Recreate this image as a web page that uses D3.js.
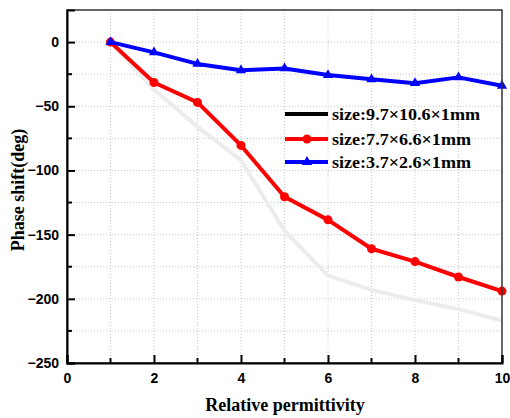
<!DOCTYPE html>
<html><head><meta charset="utf-8">
<script src="https://cdn.jsdelivr.net/npm/d3@7"></script>
<style>body{margin:0;background:#fff}svg{display:block}</style>
</head><body>
<svg id="c" width="510" height="418"></svg>
<script>
const permittivity = [1,2,3,4,5,6,7,8,9,10];
const seriesNames = ["size:9.7\u00d710.6\u00d71mm","size:7.7\u00d76.6\u00d71mm","size:3.7\u00d72.6\u00d71mm"];
const largeValues = [0,-37,-66,-92,-147,-182,-193,-201,-208,-217];
const midValues = [0,-31.5,-47,-80.5,-120.5,-138.5,-161,-171,-183,-194];
const smallValues = [0,-8,-17,-22,-20.5,-25.7,-29,-32,-27.5,-34];
const xTicks = [0,2,4,6,8,10];
const yTicks = [0,-50,-100,-150,-200,-250];

const svg = d3.select("#c");
const L=67,R=502,T=10,B=363;
const x = d3.scaleLinear().domain([0,10]).range([L,R]);
const y = d3.scaleLinear().domain([-250,25]).range([B,T]);

// grid
const g = svg.append("g");
d3.range(1,10).forEach(v=>g.append("line").attr("x1",x(v)).attr("x2",x(v)).attr("y1",T).attr("y2",B)
  .attr("stroke","#c8c8c8").attr("stroke-width",1).attr("stroke-dasharray","1,2"));
d3.range(-225,25,25).forEach(v=>g.append("line").attr("x1",L).attr("x2",R).attr("y1",y(v)).attr("y2",y(v))
  .attr("stroke","#c8c8c8").attr("stroke-width",1).attr("stroke-dasharray","1,2"));

const line = d3.line().x((d,i)=>x(permittivity[i])).y(d=>y(d));
svg.append("path").datum(largeValues).attr("d",line).attr("fill","none").attr("stroke","#ececec").attr("stroke-width",4).attr("stroke-linejoin","round");
svg.append("path").datum(midValues).attr("d",line).attr("fill","none").attr("stroke","#ff0000").attr("stroke-width",4).attr("stroke-linejoin","round");
svg.selectAll("circle.m").data(midValues).enter().append("circle").attr("cx",(d,i)=>x(permittivity[i])).attr("cy",d=>y(d)).attr("r",4.5).attr("fill","#ff0000");
svg.append("path").datum(smallValues).attr("d",line).attr("fill","none").attr("stroke","#0000ff").attr("stroke-width",4).attr("stroke-linejoin","round");
const tri = d3.symbol().type(d3.symbolTriangle).size(45);
svg.selectAll("path.t").data(smallValues).enter().append("path").attr("transform",(d,i)=>`translate(${x(permittivity[i])},${y(d)})`).attr("d",tri).attr("fill","#0000ff");

// frame
svg.append("rect").attr("x",L).attr("y",T).attr("width",R-L).attr("height",B-T).attr("fill","none").attr("stroke","#333").attr("stroke-width",1.5);

// axes
const xAxis = d3.axisBottom(x).tickValues(xTicks).tickSize(-8).tickPadding(10).tickFormat(d3.format("d"));
const gx = svg.append("g").attr("transform",`translate(0,${B})`).call(xAxis);
const yAxis = d3.axisLeft(y).tickValues(yTicks).tickSize(-8).tickPadding(8).tickFormat(d3.format("d"));
const gy = svg.append("g").attr("transform",`translate(${L},0)`).call(yAxis);
[gx,gy].forEach(a=>{
  a.select(".domain").attr("stroke","#000").attr("stroke-width",2);
  a.selectAll(".tick line").attr("stroke","#000").attr("stroke-width",2);
  a.selectAll("text").attr("font-family","Liberation Sans, Arial, sans-serif").attr("font-weight","bold").attr("font-size",14).attr("fill","#000");
});
// minor ticks
d3.range(1,10,2).forEach(v=>svg.append("line").attr("x1",x(v)).attr("x2",x(v)).attr("y1",B).attr("y2",B-5).attr("stroke","#000").attr("stroke-width",2));
d3.range(-225,25,50).forEach(v=>svg.append("line").attr("x1",L).attr("x2",L+5).attr("y1",y(v)).attr("y2",y(v)).attr("stroke","#000").attr("stroke-width",2));

svg.append("text").attr("x",285).attr("y",411).attr("text-anchor","middle")
  .attr("font-family","Liberation Serif, Times New Roman, serif").attr("font-weight","bold").attr("font-size",18).text("Relative permittivity");
svg.append("text").attr("transform","translate(24,190) rotate(-90)").attr("text-anchor","middle")
  .attr("font-family","Liberation Serif, Times New Roman, serif").attr("font-weight","bold").attr("font-size",18).text("Phase shift(deg)");

// legend
const colors=["#000000","#ff0000","#0000ff"];
const ly=[114,139,162];
const lw=[148,139,139];
seriesNames.forEach((n,i)=>{
  svg.append("line").attr("x1",285).attr("x2",328).attr("y1",ly[i]).attr("y2",ly[i]).attr("stroke",colors[i]).attr("stroke-width",4);
  if(i===1) svg.append("circle").attr("cx",307).attr("cy",ly[i]).attr("r",4.5).attr("fill",colors[i]);
  if(i===2) svg.append("path").attr("transform",`translate(307,${ly[i]})`).attr("d",tri).attr("fill",colors[i]);
  svg.append("text").attr("x",332).attr("y",ly[i]+5.5).attr("font-family","Liberation Serif, Times New Roman, serif")
    .attr("font-weight","bold").attr("font-size",16).attr("textLength",lw[i]).attr("lengthAdjust","spacingAndGlyphs").text(n);
});
</script>
</body></html>
